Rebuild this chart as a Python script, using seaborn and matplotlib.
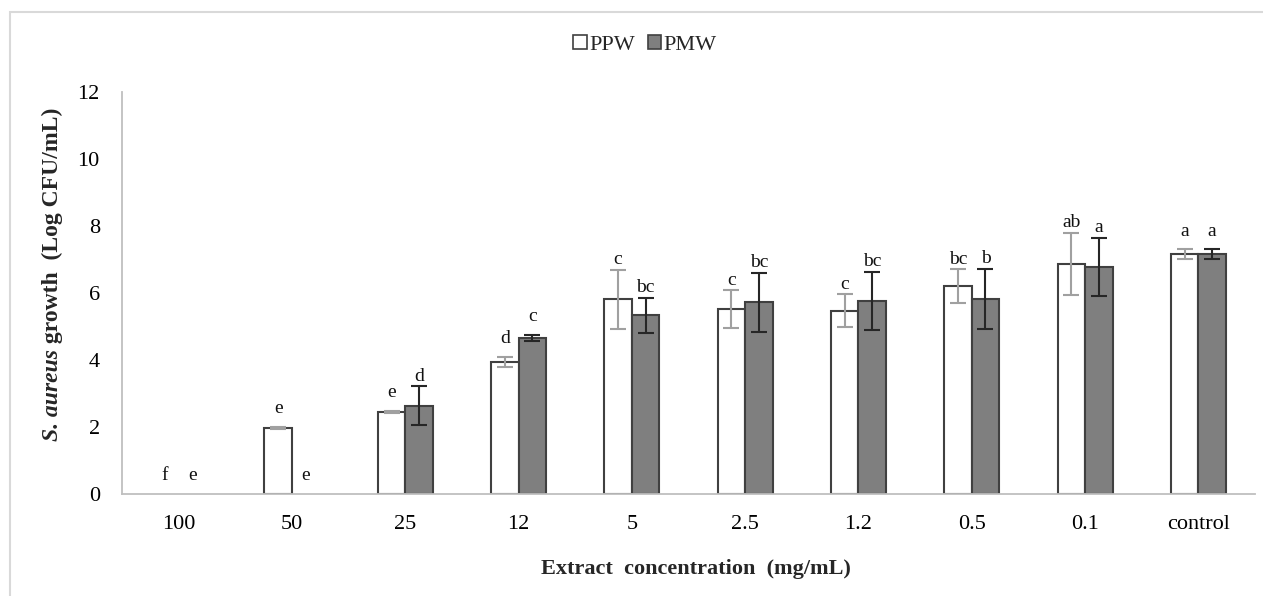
import numpy as np
import pandas as pd
import matplotlib
matplotlib.use("Agg")
import matplotlib.pyplot as plt
from matplotlib.patches import Patch, Rectangle
import seaborn as sns

# Data
categories = ["100", "50", "25", "12", "5", "2.5", "1.2", "0.5", "0.1", "control"]
series = ["PPW", "PMW"]
ppw_mean = [0, 1.97, 2.45, 3.93, 5.81, 5.52, 5.47, 6.20, 6.87, 7.16]
ppw_sd = [0, 0.02, 0.03, 0.15, 0.88, 0.56, 0.49, 0.51, 0.92, 0.14]
pmw_mean = [0, 0, 2.63, 4.66, 5.33, 5.72, 5.76, 5.82, 6.78, 7.16]
pmw_sd = [0, 0, 0.58, 0.09, 0.52, 0.88, 0.87, 0.90, 0.87, 0.14]
ppw_letters = ["f", "e", "e", "d", "c", "c", "c", "bc", "ab", "a"]
pmw_letters = ["e", "e", "d", "c", "bc", "bc", "bc", "b", "a", "a"]

df = pd.DataFrame({
    "conc": categories * 2,
    "value": ppw_mean + pmw_mean,
    "extract": ["PPW"] * len(categories) + ["PMW"] * len(categories),
})

sns.set_style("white")
plt.rcParams["font.family"] = ["Liberation Serif", "DejaVu Serif"]

fig = plt.figure(figsize=(12.63, 5.96), dpi=100)
ax = fig.add_axes([122 / 1263, 1 - 494 / 596, 1133 / 1263, 402 / 596])

edge = "#404040"
bar_w = 0.485
sns.barplot(data=df, x="conc", y="value", hue="extract",
            order=categories, hue_order=series,
            palette=["white", "#7f7f7f"], edgecolor=edge, linewidth=1.5,
            width=bar_w, errorbar=None, legend=False, ax=ax)

means = [ppw_mean, pmw_mean]
sds = [ppw_sd, pmw_sd]
letters = [ppw_letters, pmw_letters]
ecolors = ["#a0a0a0", "#262626"]

# bar centres as drawn by seaborn (category index j, hue index k)
centres = {}
for bar in ax.patches:
    c = bar.get_x() + bar.get_width() / 2
    j = int(round(c))
    k = 0 if c < j else 1
    centres[(j, k)] = c
    if bar.get_height() <= 0:
        bar.set_linewidth(0)

for k in range(2):
    for j in range(len(categories)):
        x = centres.get((j, k), j + (k - 0.5) * bar_w / 2)
        m = means[k][j]
        s = sds[k][j]
        if m > 0:
            ax.errorbar(x, m, yerr=s, fmt="none", ecolor=ecolors[k],
                        elinewidth=1.5, capsize=6, capthick=1.5, zorder=3)
        off = 4 if s > 0.3 else 10
        ax.annotate(letters[k][j], (x, m + s), xytext=(0, off),
                    textcoords="offset points", ha="center", va="baseline",
                    fontsize=14, color="#111111")

ax.set_ylim(0, 12)
ax.set_yticks(range(0, 13, 2))
ax.set_xlim(-0.5, 9.5)
for side in ["top", "right"]:
    ax.spines[side].set_visible(False)
for side in ["left", "bottom"]:
    ax.spines[side].set_color("#bfbfbf")
    ax.spines[side].set_linewidth(1.3)
ax.tick_params(axis="y", length=0, pad=16, labelsize=16, colors="black")
ax.tick_params(axis="x", length=0, pad=15, labelsize=16, colors="black")

ax.set_xlabel("Extract  concentration  (mg/mL)", fontsize=16,
              fontweight="bold", va="center")
ax.xaxis.set_label_coords(0.5066, -0.1866)
ax.set_ylabel("")

# y label in two pieces: bold italic species name, then bold rest
lab_x = 58 / 1263
lab_y = 1 - 441 / 596
t1 = fig.text(lab_x, lab_y, "S. aureus", rotation=90, rotation_mode="anchor",
              ha="left", va="baseline", fontsize=17, fontweight="bold",
              fontstyle="italic")
fig.canvas.draw()
h = t1.get_window_extent().height / fig.bbox.height
fig.text(lab_x, lab_y + h, " growth  (Log CFU/mL)", rotation=90,
         rotation_mode="anchor", ha="left", va="baseline", fontsize=17,
         fontweight="bold")

handles = [Patch(facecolor="white", edgecolor=edge, linewidth=1.2),
           Patch(facecolor="#7f7f7f", edgecolor=edge, linewidth=1.2)]
fig.legend(handles, series, loc="center", bbox_to_anchor=(645 / 1263, 1 - 45 / 596),
           ncol=2, frameon=False, fontsize=16, handlelength=0.6,
           handleheight=0.6, handletextpad=0.1, columnspacing=0.6)

# light outer frame
fig.patches.append(Rectangle((10 / 1263, -0.1), 1.2, 1.1 - 12 / 596,
                             transform=fig.transFigure, fill=False,
                             edgecolor="#d9d9d9", linewidth=1.5))

fig.savefig("out.png", dpi=100)
